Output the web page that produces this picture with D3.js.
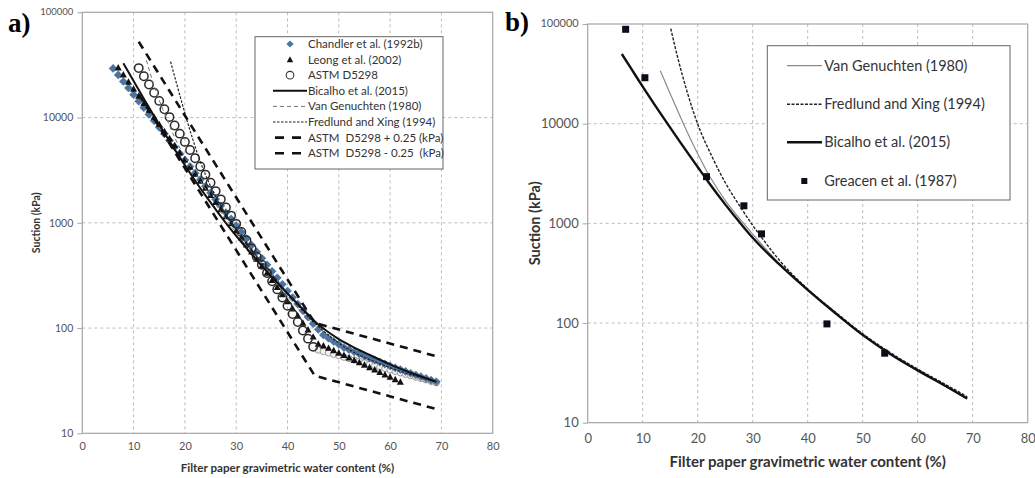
<!DOCTYPE html>
<html><head><meta charset="utf-8">
<script src="https://cdn.jsdelivr.net/npm/d3@7"></script>
<style>
body{margin:0;background:#fff}
svg{display:block}
text{font-family:Lato,"Open Sans",sans-serif}
</style>
</head><body>
<svg id="c" width="1035" height="478"></svg>
<script>
// ---------- Shared axis data ----------
const xTicks = [0,10,20,30,40,50,60,70,80];
const yTicks = [10,100,1000,10000,100000];
const xTitle = "Filter paper gravimetric water content (%)";
const yTitle = "Suction (kPa)";

// ---------- Panel a data: [water content %, suction kPa] ----------
const chandler = [[6,29300],[7,25400],[8,22000],[9,19100],[10,16500],[11,14300],[12,12400],[13,10700],[14,9320],[15,8070],[16,7000],[17,6060],[18,5250],[19,4550],[20,3940],[21,3420],[22,2960],[23,2570],[24,2220],[25,1930],[26,1670],[27,1450],[28,1250],[29,1090],[30,942],[31,816],[32,707],[33,613],[34,531],[35,460],[36,399],[37,346],[38,300],[39,260],[40,225],[41,195],[42,169],[43,146],[44,127],[45,110],[46,97],[47,86],[48,80],[49,74.5],[50,70],[51,65.3],[52,62.3],[53,59.4],[54,56.7],[55,54.2],[56,51.8],[57,49.6],[58,47.5],[59,45.5],[60,43.7],[61,41.9],[62,40.3],[63,38.7],[64,37.2],[65,35.8],[66,34.5],[67,33.2],[68,32.0],[69,30.9]];
const leong = [[7,29800],[8,25500],[9,21800],[10,18700],[11,16000],[12,13700],[13,11800],[14,10100],[15,8620],[16,7380],[17,6320],[18,5420],[19,4640],[20,3970],[21,3400],[22,2910],[23,2500],[24,2140],[25,1830],[26,1570],[27,1340],[28,1150],[29,985],[30,843],[31,722],[32,619],[33,530],[34,454],[35,389],[36,333],[37,285],[38,244],[39,209],[40,179],[41,153],[42,131],[43,112],[44,96.3],[45,82.5],[46,70.7],[47,68.0],[48,64.5],[49,61.2],[50,58.1],[51,55.1],[52,52.3],[53,49.6],[54,47.0],[55,44.6],[56,42.3],[57,40.2],[58,38.1],[59,36.1],[60,34.3],[61,32.5],[62,30.8]];
const astmDry = [[11,29500],[12,24700],[13,20600],[14,17200],[15,14400],[16,12000],[17,10100],[18,8410],[19,7030],[20,5870],[21,4910],[22,4100],[23,3430],[24,2870],[25,2400],[26,2000],[27,1670],[28,1400],[29,1170],[30,977],[31,817],[32,683],[33,571],[34,477],[35,399],[36,333],[37,278],[38,233],[39,195],[40,163],[41,136],[42,114],[43,94.9],[44,79.3],[45,66.3]];
const astmWet = [[46,61.8],[47,59.9],[48,58.1],[49,56.3],[50,54.6],[51,52.9],[52,51.3],[53,49.7],[54,48.2],[55,46.7],[56,45.3],[57,43.9],[58,42.6],[59,41.3],[60,40.0],[61,38.8],[62,37.6],[63,36.4],[64,35.3],[65,34.2],[66,33.2],[67,32.2],[68,31.2],[69,30.2]];
const bicalhoA = [[8,32800],[10,22200],[12,15100],[14,10300],[16,7140],[18,4990],[20,3520],[22,2510],[24,1820],[26,1340],[28,995],[30,752],[33,504],[36,344],[40,213],[43,151],[46,108],[48,91.2],[50,78.5],[53,65.3],[56,55.6],[60,45.2],[64,37.6],[69,30.9]];
const vanGenA = [[12.5,35000],[14,20000],[16,11000],[18,6500],[20,4200],[23,2500],[26,1500],[30,800],[35,400],[40,200],[45,110],[50,70],[60,42],[69,30]];
const fredlundA = [[17.2,34000],[18.5,20000],[20,11000],[21.5,6300],[23,3800],[25,2240],[28,1200],[32,630],[36,372],[40,214],[45,115],[50,72],[60,42],[69,31]];
const astmPlus = [[11,52500],[45.3,112],[69,54]];
const astmMinus = [[11,16600],[45.3,35.3],[69,17]];
const legendA = ["Chandler et al. (1992b)","Leong et al. (2002)","ASTM D5298","Bicalho et al. (2015)","Van Genuchten (1980)","Fredlund and Xing (1994)","ASTM  D5298 + 0.25 (kPa)","ASTM  D5298 - 0.25  (kPa)"];

// ---------- Panel b data ----------
const greacen = [[6.9,88500],[10.4,28900],[21.6,2940],[28.4,1500],[31.6,784],[43.5,98],[54.0,49.8]];
const bicalhoB = [[6.2,50000],[8,35000],[10,23500],[12,16000],[14.5,10000],[17,6300],[20,3670],[22,2570],[25,1550],[28,966],[30,716],[35,380],[40,215],[45,126],[50,76],[55,49],[60,33.5],[65,23.5],[69,17.5]];
const vanGenB = [[13.2,34000],[15,20000],[17.4,10000],[20,5000],[22.2,2950],[25,1700],[28,1050],[30,780],[32,585],[35,385],[40,213],[45,125],[50,75],[55,48.5],[60,33],[65,23.2],[69,17.3]];
const fredlundB = [[15.1,90000],[16.5,43000],[18,21600],[20,9900],[22.5,4800],[25,2570],[27.7,1480],[30,955],[32,676],[35,417],[40,219],[45,129],[50,78],[55,50.5],[60,34.5],[65,24.3],[69,18.2]];
const legendB = ["Van Genuchten (1980)","Fredlund and Xing (1994)","Bicalho et al. (2015)","Greacen et al. (1987)"];

// ---------- Drawing ----------
const svg = d3.select("#c");
const BLUE = "#4a74a6";

function makePanel(o) {
  const x = d3.scaleLinear().domain([0,80]).range([o.x0,o.x1]);
  const y = d3.scaleLog().domain([10,100000]).range([o.yb,o.yt]);
  const g = svg.append("g");
  g.selectAll(".gx").data(xTicks.slice(1,-1)).join("line")
    .attr("x1",d=>x(d)).attr("x2",d=>x(d)).attr("y1",o.yt).attr("y2",o.yb)
    .attr("stroke","#bdbdbd").attr("stroke-dasharray","3,3");
  g.selectAll(".gy").data(yTicks.slice(1,-1)).join("line")
    .attr("y1",d=>y(d)).attr("y2",d=>y(d)).attr("x1",o.x0).attr("x2",o.x1)
    .attr("stroke","#bdbdbd").attr("stroke-dasharray","3,3");
  g.append("rect").attr("x",o.x0).attr("y",o.yt).attr("width",o.x1-o.x0).attr("height",o.yb-o.yt)
    .attr("fill","none").attr("stroke","#a6a6a6").attr("stroke-width",1.2);
  const ya = g.append("g").attr("transform",`translate(${o.x0},0)`)
    .call(d3.axisLeft(y).tickValues(yTicks).tickFormat(d=>String(d)).tickSize(5).tickPadding(4));
  ya.select(".domain").remove();
  ya.selectAll("line").attr("stroke","#a6a6a6");
  ya.selectAll("text").attr("fill","#555").style("font-size",o.fy+"px").style("font-family","Lato");
  ya.selectAll("text").filter(d=>d===100000).style("font-size",o.fyTop+"px").attr("dy","0.2em");
  const xa = g.append("g").attr("transform",`translate(0,${o.yb})`)
    .call(d3.axisBottom(x).tickValues(xTicks).tickSize(0).tickPadding(o.xpad));
  xa.select(".domain").remove();
  xa.selectAll("text").attr("fill","#555").style("font-size",o.fx+"px").style("font-family","Lato");
  g.append("text").attr("x",(o.x0+o.x1)/2).attr("y",o.xtY).attr("text-anchor","middle")
    .attr("font-weight","bold").attr("fill","#333").style("font-size",o.ft+"px").text(xTitle);
  g.append("text").attr("transform",`translate(${o.ytX},${(o.yt+o.yb)/2}) rotate(-90)`)
    .attr("text-anchor","middle").attr("font-weight","bold").attr("fill","#333")
    .style("font-size",o.fyt+"px").text(yTitle);
  g.append("text").attr("x",o.labX).attr("y",o.labY)
    .style("font-family","'Liberation Serif',serif").attr("font-weight","bold").style("font-size","27px").attr("fill","#000").text(o.label);
  return {x,y,g};
}

const diamond = r => `M0,${-r}L${r},0L0,${r}L${-r},0Z`;
const tri = r => `M0,${-r}L${r*0.95},${r*0.75}L${-r*0.95},${r*0.75}Z`;

// ===== Panel a =====
const A = makePanel({x0:82.3,x1:492.7,yt:12.3,yb:433.3,fy:10.5,fyTop:9.5,fx:11,xpad:9,ft:11.6,fyt:10.5,xtY:472,ytX:40,labX:8,labY:32,label:"a)"});
{
  const {x,y,g} = A;
  const line = d3.line().x(d=>x(d[0])).y(d=>y(d[1]));
  const smooth = d3.line().x(d=>x(d[0])).y(d=>y(d[1])).curve(d3.curveMonotoneX);
  g.selectAll(".aw").data(astmWet).join("circle").attr("cx",d=>x(d[0])).attr("cy",d=>y(d[1])).attr("r",3.2)
    .attr("fill","#f2f2f2").attr("stroke","#9a9a9a").attr("stroke-width",1);
  g.selectAll(".ch").data(chandler).join("path").attr("d",diamond(4.1))
    .attr("transform",d=>`translate(${x(d[0])},${y(d[1])})`).attr("fill",BLUE).attr("stroke","#3d5f88").attr("stroke-width",0.4);
  g.selectAll(".le").data(leong).join("path").attr("d",tri(3.7))
    .attr("transform",d=>`translate(${x(d[0])},${y(d[1])})`).attr("fill","#111");
  g.selectAll(".ad").data(astmDry).join("circle").attr("cx",d=>x(d[0])).attr("cy",d=>y(d[1])).attr("r",4.2)
    .attr("fill","none").attr("stroke","#2a2a2a").attr("stroke-width",1.5);
  g.append("path").datum(vanGenA).attr("d",smooth).attr("fill","none").attr("stroke","#777").attr("stroke-width",1).attr("stroke-dasharray","4,3");
  g.append("path").datum(fredlundA).attr("d",smooth).attr("fill","none").attr("stroke","#222").attr("stroke-width",1.2).attr("stroke-dasharray","2.5,1.5");
  g.append("path").datum(bicalhoA).attr("d",smooth).attr("fill","none").attr("stroke","#111").attr("stroke-width",2);
  g.append("path").datum(astmPlus).attr("d",line).attr("fill","none").attr("stroke","#111").attr("stroke-width",2.6).attr("stroke-dasharray","8,6");
  g.append("path").datum(astmMinus).attr("d",line).attr("fill","none").attr("stroke","#111").attr("stroke-width",2.6).attr("stroke-dasharray","8,6");

  const L = svg.append("g");
  L.append("rect").attr("x",255).attr("y",36.7).attr("width",188).attr("height",132.3).attr("fill","#fff").attr("stroke","#666").attr("stroke-width",1);
  const rowY = i => 44 + i*15.6;
  L.selectAll("text").data(legendA).join("text").attr("x",308).attr("y",(d,i)=>rowY(i)).attr("dy","0.35em")
    .attr("fill","#333").style("font-size","11.5px").style("white-space","pre").text(d=>d);
  L.append("path").attr("d",diamond(3.6)).attr("transform",`translate(290,${rowY(0)})`).attr("fill",BLUE);
  L.append("path").attr("d",tri(3.4)).attr("transform",`translate(290,${rowY(1)})`).attr("fill","#111");
  L.append("circle").attr("cx",290).attr("cy",rowY(2)).attr("r",3.8).attr("fill","none").attr("stroke","#333").attr("stroke-width",1.1);
  L.append("line").attr("x1",273).attr("x2",307).attr("y1",rowY(3)).attr("y2",rowY(3)).attr("stroke","#111").attr("stroke-width",2);
  L.append("line").attr("x1",273).attr("x2",307).attr("y1",rowY(4)).attr("y2",rowY(4)).attr("stroke","#777").attr("stroke-width",1).attr("stroke-dasharray","4,3");
  L.append("line").attr("x1",273).attr("x2",307).attr("y1",rowY(5)).attr("y2",rowY(5)).attr("stroke","#222").attr("stroke-width",1.2).attr("stroke-dasharray","2.5,1.5");
  [6,7].forEach(i=>L.append("line").attr("x1",275).attr("x2",301).attr("y1",rowY(i)).attr("y2",rowY(i)).attr("stroke","#111").attr("stroke-width",2.6).attr("stroke-dasharray","9,8"));
}

// ===== Panel b =====
const B = makePanel({x0:587.7,x1:1027.7,yt:24,yb:422.7,fy:13,fyTop:11,fx:13,xpad:11,ft:15,fyt:14.5,xtY:467,ytX:540,labX:505,labY:31,label:"b)"});
{
  const {x,y,g} = B;
  const smooth = d3.line().x(d=>x(d[0])).y(d=>y(d[1])).curve(d3.curveMonotoneX);
  g.append("path").datum(vanGenB).attr("d",smooth).attr("fill","none").attr("stroke","#8a8a8a").attr("stroke-width",1.2);
  g.append("path").datum(fredlundB).attr("d",smooth).attr("fill","none").attr("stroke","#222").attr("stroke-width",1.4).attr("stroke-dasharray","3,1.5");
  g.append("path").datum(bicalhoB).attr("d",smooth).attr("fill","none").attr("stroke","#111").attr("stroke-width",2.4);
  g.selectAll(".gr").data(greacen).join("rect").attr("x",d=>x(d[0])-3.5).attr("y",d=>y(d[1])-3.5)
    .attr("width",7).attr("height",7).attr("fill","#0d0d1a");

  const L = svg.append("g");
  L.append("rect").attr("x",767.3).attr("y",45.7).attr("width",242.7).attr("height",154.3).attr("fill","#fff").attr("stroke","#666").attr("stroke-width",1);
  const rowY = [65.7,104.3,142.3,181];
  L.selectAll("text").data(legendB).join("text").attr("x",824.3).attr("y",(d,i)=>rowY[i]).attr("dy","0.35em")
    .attr("fill","#333").style("font-size","14.5px").text(d=>d);
  L.append("line").attr("x1",787).attr("x2",822).attr("y1",rowY[0]).attr("y2",rowY[0]).attr("stroke","#8a8a8a").attr("stroke-width",1.2);
  L.append("line").attr("x1",787).attr("x2",822).attr("y1",rowY[1]).attr("y2",rowY[1]).attr("stroke","#222").attr("stroke-width",1.4).attr("stroke-dasharray","3,1.5");
  L.append("line").attr("x1",787).attr("x2",822).attr("y1",rowY[2]).attr("y2",rowY[2]).attr("stroke","#111").attr("stroke-width",2.4);
  L.append("rect").attr("x",804.3-3).attr("y",rowY[3]-3).attr("width",6).attr("height",6).attr("fill","#0d0d1a");
}
</script>
</body></html>
